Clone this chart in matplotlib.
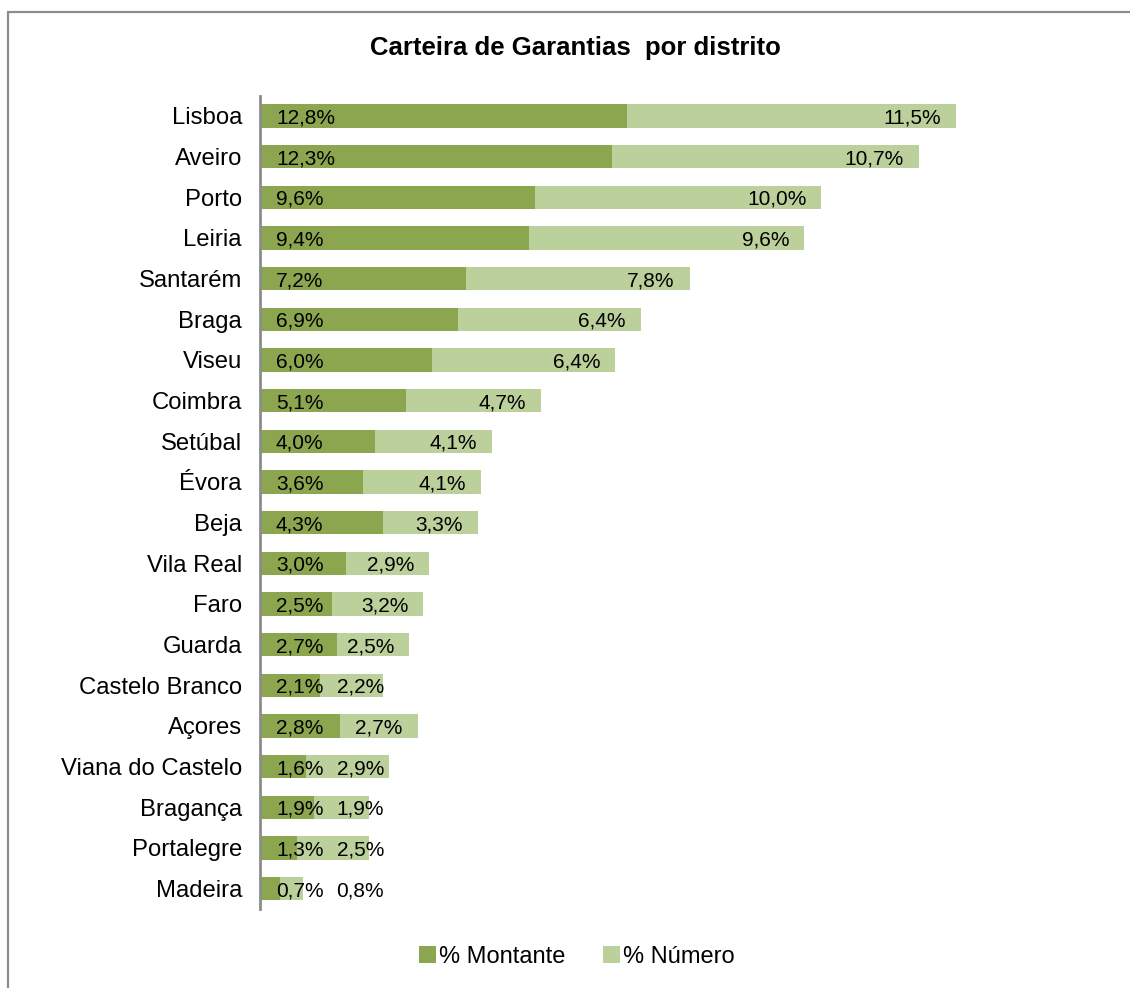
import matplotlib
matplotlib.use("Agg")
import matplotlib.pyplot as plt
from matplotlib.patches import Rectangle, Patch

plt.rcParams['font.family'] = ['Liberation Sans', 'DejaVu Sans']

# Guarantee portfolio by district (share of amount and share of count, %)
distritos = ["Lisboa", "Aveiro", "Porto", "Leiria", "Santarém", "Braga", "Viseu",
             "Coimbra", "Setúbal", "Évora", "Beja", "Vila Real", "Faro", "Guarda",
             "Castelo Branco", "Açores", "Viana do Castelo", "Bragança",
             "Portalegre", "Madeira"]
montante = [12.8, 12.3, 9.6, 9.4, 7.2, 6.9, 6.0, 5.1, 4.0, 3.6, 4.3, 3.0, 2.5, 2.7,
            2.1, 2.8, 1.6, 1.9, 1.3, 0.7]
numero = [11.5, 10.7, 10.0, 9.6, 7.8, 6.4, 6.4, 4.7, 4.1, 4.1, 3.3, 2.9, 3.2, 2.5,
          2.2, 2.7, 2.9, 1.9, 2.5, 0.8]

cor_montante = "#8BA64F"
cor_numero = "#BBD09B"
cinza = "#8C8C8C"

W, H = 1130, 988
fig = plt.figure(figsize=(W / 100, H / 100), dpi=100)

# outer chart frame (only its top and left edges fall inside the image)
fig.patches.append(Rectangle((8 / W, -0.2), 1.2, 1.2 - 12 / H, transform=fig.transFigure,
                             fill=False, edgecolor=cinza, linewidth=1.6))

ax_left, ax_right, ax_top, ax_bottom = 260, 1100, 95.6, 909
ax = fig.add_axes([ax_left / W, 1 - ax_bottom / H, (ax_right - ax_left) / W,
                   (ax_bottom - ax_top) / H])
xmax = 29.33
ax.set_xlim(0, xmax)
ax.set_ylim(len(distritos) - 0.5, -0.5)
scale = (ax_right - ax_left) / xmax  # pixels per percentage point

ys = list(range(len(distritos)))
ax.barh(ys, montante, height=0.57, color=cor_montante, linewidth=0)
ax.barh(ys, numero, left=montante, height=0.57, color=cor_numero, linewidth=0)

fmt = lambda v: f"{v:.1f}%".replace(".", ",")
lab_size = 15
min_right = 124 / scale
for y, m, n in zip(ys, montante, numero):
    ax.text(16 / scale, y, fmt(m), ha="left", va="center_baseline",
            fontsize=lab_size, color="black")
    right = max(m + n - 15 / scale, min_right)
    ax.text(right, y, fmt(n), ha="right", va="center_baseline",
            fontsize=lab_size, color="black")

ax.set_yticks(ys)
ax.set_yticklabels(distritos, fontsize=17.2)
ax.tick_params(axis="y", length=0, pad=13)
ax.set_xticks([])
for s in ["top", "right", "bottom"]:
    ax.spines[s].set_visible(False)
ax.spines["left"].set_color(cinza)
ax.spines["left"].set_linewidth(2)

fig.text(575 / W, 1 - 48 / H, "Carteira de Garantias  por distrito",
         ha="center", va="center", fontsize=18.5, fontweight="bold")

handles = [Patch(facecolor=cor_montante, edgecolor="none"),
           Patch(facecolor=cor_numero, edgecolor="none")]
fig.legend(handles, ["% Montante", "% Número"], loc="center",
           bbox_to_anchor=(577 / W, 1 - 957 / H), ncol=2, frameon=False,
           fontsize=17, handlelength=0.7, handleheight=0.7,
           handletextpad=0.15, columnspacing=1.6)

fig.savefig("out.png", dpi=100, facecolor="white")
